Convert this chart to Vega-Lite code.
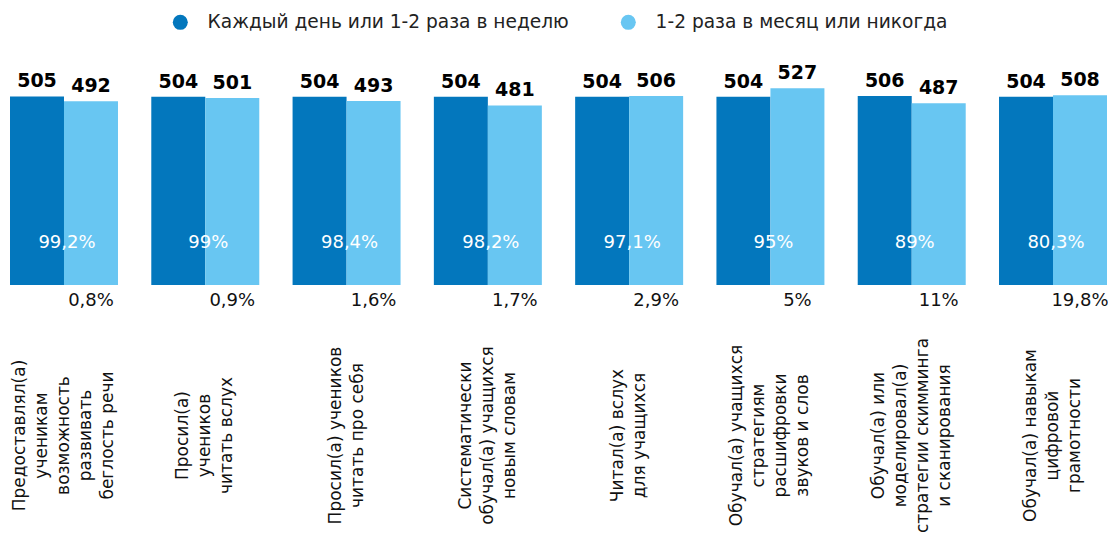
{
  "$schema": "https://vega.github.io/schema/vega-lite/v6.json",
  "autosize": {"type": "none"},
  "padding": {"left": 10, "top": 61, "right": 1, "bottom": 255},
  "width": 1097,
  "height": 224,
  "background": "white",
  "config": {"view": {"stroke": null}, "font": "DejaVu Sans"},
  "data": {
    "values": [
      {"practice": "Предоставлял(а)|ученикам|возможность|развивать|беглость речи", "series": "Каждый день или 1-2 раза в неделю", "score": 505, "pct": "99,2%"},
      {"practice": "Предоставлял(а)|ученикам|возможность|развивать|беглость речи", "series": "1-2 раза в месяц или никогда", "score": 492, "pct": "0,8%"},
      {"practice": "Просил(а)|учеников|читать вслух", "series": "Каждый день или 1-2 раза в неделю", "score": 504, "pct": "99%"},
      {"practice": "Просил(а)|учеников|читать вслух", "series": "1-2 раза в месяц или никогда", "score": 501, "pct": "0,9%"},
      {"practice": "Просил(а) учеников|читать про себя", "series": "Каждый день или 1-2 раза в неделю", "score": 504, "pct": "98,4%"},
      {"practice": "Просил(а) учеников|читать про себя", "series": "1-2 раза в месяц или никогда", "score": 493, "pct": "1,6%"},
      {"practice": "Систематически|обучал(а) учащихся|новым словам", "series": "Каждый день или 1-2 раза в неделю", "score": 504, "pct": "98,2%"},
      {"practice": "Систематически|обучал(а) учащихся|новым словам", "series": "1-2 раза в месяц или никогда", "score": 481, "pct": "1,7%"},
      {"practice": "Читал(а) вслух|для учащихся", "series": "Каждый день или 1-2 раза в неделю", "score": 504, "pct": "97,1%"},
      {"practice": "Читал(а) вслух|для учащихся", "series": "1-2 раза в месяц или никогда", "score": 506, "pct": "2,9%"},
      {"practice": "Обучал(а) учащихся|стратегиям|расшифровки|звуков и слов", "series": "Каждый день или 1-2 раза в неделю", "score": 504, "pct": "95%"},
      {"practice": "Обучал(а) учащихся|стратегиям|расшифровки|звуков и слов", "series": "1-2 раза в месяц или никогда", "score": 527, "pct": "5%"},
      {"practice": "Обучал(а) или|моделировал(а)|стратегии скимминга|и сканирования", "series": "Каждый день или 1-2 раза в неделю", "score": 506, "pct": "89%"},
      {"practice": "Обучал(а) или|моделировал(а)|стратегии скимминга|и сканирования", "series": "1-2 раза в месяц или никогда", "score": 487, "pct": "11%"},
      {"practice": "Обучал(а) навыкам|цифровой|грамотности", "series": "Каждый день или 1-2 раза в неделю", "score": 504, "pct": "80,3%"},
      {"practice": "Обучал(а) навыкам|цифровой|грамотности", "series": "1-2 раза в месяц или никогда", "score": 508, "pct": "19,8%"}
    ]
  },
  "encoding": {
    "x": {
      "field": "practice",
      "type": "nominal",
      "sort": null,
      "title": null,
      "scale": {"paddingInner": 0.2357, "paddingOuter": 0},
      "axis": {
        "domain": false,
        "ticks": false,
        "tickSize": 0,
        "grid": false,
        "labelAngle": -90,
        "labelAlign": "center",
        "labelBaseline": "middle",
        "labelPadding": 150,
        "labelOffset": {"expr": "-(length(split(datum.value, '|')) - 1) * 11"},
        "labelFont": "DejaVu Sans",
        "labelFontSize": 17,
        "labelLineHeight": 22,
        "labelColor": "#111111",
        "labelLimit": 0,
        "labelOverlap": false,
        "labelBound": false,
        "labelExpr": "split(datum.label, '|')"
      }
    }
  },
  "layer": [
    {
      "mark": {"type": "bar"},
      "encoding": {
        "xOffset": {"field": "series", "type": "nominal", "sort": ["Каждый день или 1-2 раза в неделю", "1-2 раза в месяц или никогда"], "scale": {"paddingInner": 0, "paddingOuter": 0}},
        "y": {"field": "score", "type": "quantitative", "scale": {"domain": [0, 600], "nice": false}, "axis": null},
        "color": {
          "field": "series",
          "type": "nominal",
          "sort": ["Каждый день или 1-2 раза в неделю", "1-2 раза в месяц или никогда"],
          "scale": {"domain": ["Каждый день или 1-2 раза в неделю", "1-2 раза в месяц или никогда"], "range": ["#0377BD", "#68C6F2"]},
          "legend": {
            "orient": "none",
            "legendX": 161,
            "legendY": -48,
            "direction": "horizontal",
            "columns": 2,
            "title": null,
            "padding": 0,
            "symbolType": "circle",
            "symbolSize": 225,
            "symbolStrokeWidth": 0,
            "labelFont": "DejaVu Sans",
            "labelFontSize": 18.6,
            "labelColor": "#222222",
            "labelOffset": 18,
            "labelLimit": 0,
            "columnPadding": 50
          }
        }
      }
    },
    {
      "mark": {"type": "text", "fontWeight": "bold", "fontSize": 19, "baseline": "alphabetic", "dy": -9, "color": "#000000", "font": "DejaVu Sans"},
      "encoding": {
        "xOffset": {"field": "series", "type": "nominal", "sort": ["Каждый день или 1-2 раза в неделю", "1-2 раза в месяц или никогда"]},
        "y": {"field": "score", "type": "quantitative"},
        "text": {"field": "score", "type": "quantitative"}
      }
    },
    {
      "transform": [{"filter": "datum.series === 'Каждый день или 1-2 раза в неделю'"}],
      "mark": {"type": "text", "fontSize": 18, "baseline": "middle", "dx": 3, "color": "#ffffff", "font": "DejaVu Sans"},
      "encoding": {
        "y": {"datum": 112, "type": "quantitative"},
        "text": {"field": "pct", "type": "nominal"}
      }
    },
    {
      "transform": [{"filter": "datum.series === '1-2 раза в месяц или никогда'"}],
      "mark": {"type": "text", "fontSize": 18, "baseline": "middle", "dy": 16, "color": "#111111", "font": "DejaVu Sans"},
      "encoding": {
        "xOffset": {"field": "series", "type": "nominal", "sort": ["Каждый день или 1-2 раза в неделю", "1-2 раза в месяц или никогда"]},
        "y": {"datum": 0, "type": "quantitative"},
        "text": {"field": "pct", "type": "nominal"}
      }
    }
  ]
}
